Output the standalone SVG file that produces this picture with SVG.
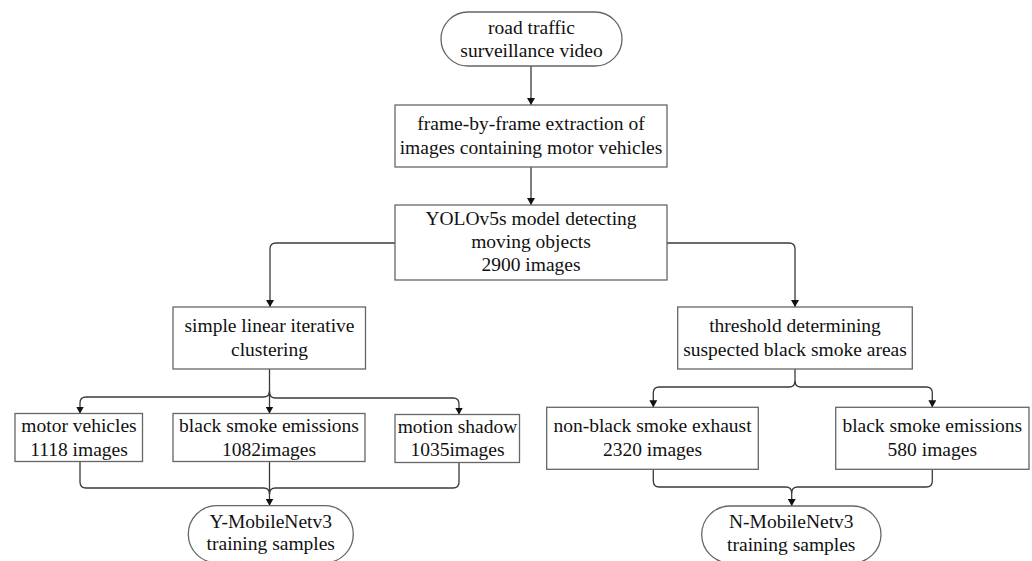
<svg xmlns="http://www.w3.org/2000/svg" width="1032" height="561" viewBox="0 0 1032 561">
<style>
.box{fill:#fff;stroke:#666;stroke-width:1.3}
.con{fill:none;stroke:#3a3a3a;stroke-width:1.3}
text{font-family:"Liberation Serif","Times New Roman",serif;font-size:19.5px;fill:#111;text-anchor:middle}
</style>
<defs>
<marker id="arr" markerUnits="userSpaceOnUse" viewBox="0 0 7 8" markerWidth="7" markerHeight="8" refX="7" refY="4" orient="auto">
<path d="M0 0 L7 4 L0 8 Z" fill="#111"/>
</marker>
</defs>
<rect width="1032" height="561" fill="#fff"/>
<g id="connectors">
<path class="con" d="M531 66 V105" marker-end="url(#arr)"/>
<path class="con" d="M531 167 V205" marker-end="url(#arr)"/>
<path class="con" d="M395 243 H276 Q270 243 270 249 V307" marker-end="url(#arr)"/>
<path class="con" d="M667 243 H789 Q795 243 795 249 V307" marker-end="url(#arr)"/>
<path class="con" d="M269.5 369 V413.5" marker-end="url(#arr)"/>
<path class="con" d="M269.5 391 Q269.5 397 263.5 397 H86 Q80 397 80 403 V413.5" marker-end="url(#arr)"/>
<path class="con" d="M269.5 392 Q269.5 398 275.5 398 H453 Q459 398 459 404 V414.5" marker-end="url(#arr)"/>
<path class="con" d="M80 461.5 V482 Q80 488 86 488 H263.5 Q269.5 488 269.5 494"/>
<path class="con" d="M459 462.5 V482 Q459 488 453 488 H275.5 Q269.5 488 269.5 494"/>
<path class="con" d="M269.5 461.5 V505.7" marker-end="url(#arr)"/>
<path class="con" d="M795 369 V381 Q795 387 789 387 H659.3 Q653.3 387 653.3 393 V407.3" marker-end="url(#arr)"/>
<path class="con" d="M795 381 Q795 387 801 387 H926.3 Q932.3 387 932.3 393 V407.3" marker-end="url(#arr)"/>
<path class="con" d="M653.3 469.3 V481 Q653.3 487 659.3 487 H785.7 Q791.7 487 791.7 493 V506" marker-end="url(#arr)"/>
<path class="con" d="M932.3 469.3 V481 Q932.3 487 926.3 487 H797.7 Q791.7 487 791.7 493"/>
</g>
<g id="start">
<rect class="box" x="441" y="12" width="181" height="54" rx="27"/>
<text x="531.5" y="33.5">road traffic</text>
<text x="531.5" y="57">surveillance video</text>
</g>
<g id="extract">
<rect class="box" x="395" y="105" width="272" height="62"/>
<text x="531" y="130">frame-by-frame extraction of</text>
<text x="531" y="154">images containing motor vehicles</text>
</g>
<g id="yolo">
<rect class="box" x="395" y="205" width="272" height="75"/>
<text x="531" y="224.5">YOLOv5s model detecting</text>
<text x="531" y="248">moving objects</text>
<text x="531" y="271">2900 images</text>
</g>
<g id="slic">
<rect class="box" x="173" y="307" width="192.5" height="62"/>
<text x="269.5" y="332">simple linear iterative</text>
<text x="269.5" y="355.5">clustering</text>
</g>
<g id="threshold">
<rect class="box" x="677.7" y="307" width="234.6" height="62"/>
<text x="795" y="332">threshold determining</text>
<text x="795" y="355.5">suspected black smoke areas</text>
</g>
<g id="motor">
<rect class="box" x="15" y="413.5" width="127.5" height="48"/>
<text x="79" y="432">motor vehicles</text>
<text x="79" y="456">1118 images</text>
</g>
<g id="smoke1">
<rect class="box" x="173" y="413.5" width="192" height="48"/>
<text x="269" y="432">black smoke emissions</text>
<text x="269" y="456">1082images</text>
</g>
<g id="shadow">
<rect class="box" x="395" y="414.5" width="124.5" height="48"/>
<text x="457.5" y="433">motion shadow</text>
<text x="457.5" y="456">1035images</text>
</g>
<g id="nonblack">
<rect class="box" x="546.7" y="407.3" width="211.6" height="62"/>
<text x="652.5" y="432">non-black smoke exhaust</text>
<text x="652.5" y="455.5">2320 images</text>
</g>
<g id="smoke2">
<rect class="box" x="835.7" y="407.3" width="193.3" height="62"/>
<text x="932.3" y="432">black smoke emissions</text>
<text x="932.3" y="455.5">580 images</text>
</g>
<g id="ymobile">
<rect class="box" x="188.3" y="505.7" width="165" height="57" rx="28.5"/>
<text x="270.8" y="527.5">Y-MobileNetv3</text>
<text x="270.8" y="550">training samples</text>
</g>
<g id="nmobile">
<rect class="box" x="701.7" y="506" width="179.3" height="57" rx="28.5"/>
<text x="791.3" y="528">N-MobileNetv3</text>
<text x="791.3" y="550.5">training samples</text>
</g>
</svg>
